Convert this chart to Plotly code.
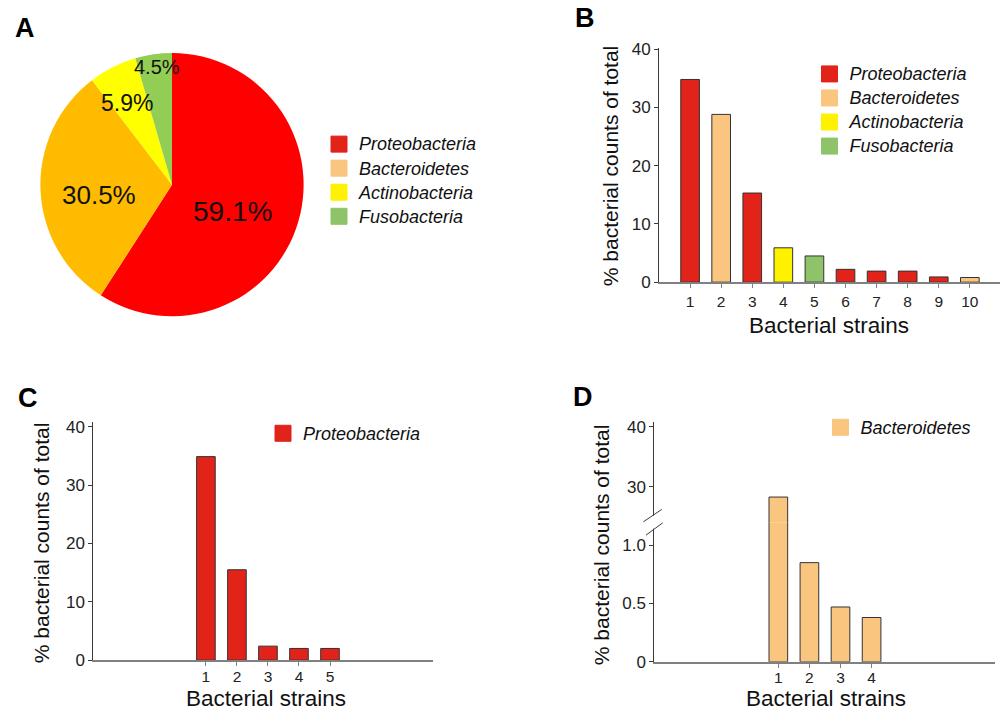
import plotly.graph_objects as go

W, H = 1005, 717
FONT = "Liberation Sans, Arial, sans-serif"
# photographed page: image_y = T + S * page_y (measured from earlier renders)
S, T = 0.975, 7.8

# ---------------- data ----------------
phyla = ["Proteobacteria", "Bacteroidetes", "Actinobacteria", "Fusobacteria"]
pie_values = [59.1, 30.5, 5.9, 4.5]

b_strains = [1, 2, 3, 4, 5, 6, 7, 8, 9, 10]
b_values = [34.8, 28.8, 15.3, 5.9, 4.5, 2.2, 1.9, 1.9, 0.9, 0.8]
b_phylum = ["Proteobacteria", "Bacteroidetes", "Proteobacteria", "Actinobacteria",
            "Fusobacteria", "Proteobacteria", "Proteobacteria", "Proteobacteria",
            "Proteobacteria", "Bacteroidetes"]

c_strains = [1, 2, 3, 4, 5]
c_values = [34.9, 15.5, 2.4, 2.0, 2.0]

d_strains = [1, 2, 3, 4]
d_values = [28.3, 0.85, 0.47, 0.38]

main_yticks = [0, 10, 20, 30, 40]
d_low_ticks = [0, 0.5, 1.0]
d_low_labels = ["0", "0.5", "1.0"]
d_high_ticks = [30, 40]

# ---------------- styles ----------------
pie_colors = ["#FF0000", "#FFBB00", "#FFFF00", "#92CD55"]
bar_colors = {"Proteobacteria": "#E2231A", "Bacteroidetes": "#FAC57F",
              "Actinobacteria": "#FFF200", "Fusobacteria": "#8EC36A"}


def fx(p):
    return p / W


def pg(img_y):
    return (img_y - T) / S


def fyp(page_y):
    return 1 - page_y / H


def fy(img_y):
    return fyp(pg(img_y))


fig = go.Figure()

R = 135
pcy = pg(184.5)
fig.add_trace(go.Pie(
    labels=phyla, values=pie_values, sort=False, direction="clockwise", rotation=0,
    marker=dict(colors=pie_colors, line=dict(width=0)),
    textinfo="none", showlegend=False, hoverinfo="label+percent",
    domain=dict(x=[fx(172 - R), fx(172 + R)], y=[fyp(pcy + R), fyp(pcy - R)]),
))

fig.add_trace(go.Bar(
    x=b_strains, y=b_values, width=0.6,
    marker=dict(color=[bar_colors[p] for p in b_phylum], line=dict(color="#333333", width=1)),
    xaxis="x", yaxis="y", showlegend=False,
))
fig.add_trace(go.Bar(
    x=c_strains, y=c_values, width=0.6,
    marker=dict(color=bar_colors["Proteobacteria"], line=dict(color="#333333", width=1)),
    xaxis="x2", yaxis="y2", showlegend=False,
))
for ya in ["y3", "y4"]:
    fig.add_trace(go.Bar(
        x=d_strains, y=d_values, width=0.6,
        marker=dict(color=bar_colors["Bacteroidetes"], line=dict(color="#333333", width=1)),
        xaxis="x3", yaxis=ya, showlegend=False,
    ))


def legend_entry(name, legend):
    c = bar_colors[name]
    return go.Scatter(
        x=[None], y=[None], mode="markers",
        marker=dict(symbol="square", size=16, color=c, line=dict(color=c, width=1)),
        name="<span style='font-size:18px'><i>%s</i></span>" % name,
        legend=legend, xaxis="x", yaxis="y", showlegend=True, hoverinfo="skip",
    )


for p in phyla:
    fig.add_trace(legend_entry(p, "legend"))
for p in phyla:
    fig.add_trace(legend_entry(p, "legend2"))
fig.add_trace(legend_entry("Proteobacteria", "legend3"))
fig.add_trace(legend_entry("Bacteroidetes", "legend4"))

LEG_FS = 16.2
LEG_ITEM_H = LEG_FS * 1.3 + 3


def leg(sym_x, row1_img_y):
    top = pg(row1_img_y) - (5 + LEG_ITEM_H / 2)
    return dict(x=fx(sym_x - 20), y=fyp(top), xanchor="left", yanchor="top",
                font=dict(family=FONT, size=LEG_FS, color="#111111"),
                bgcolor="rgba(0,0,0,0)", itemclick=False, itemdoubleclick=False)


tickfont = dict(family=FONT, size=17, color="#222222")
xtickfont = dict(family=FONT, size=15.5, color="#222222")
XLINE = "#808080"
YLINE = "#3a3a3a"


def xax(dom, rng, ticks, anchor, standoff=0):
    return dict(domain=dom, range=rng, tickvals=ticks, ticktext=[str(t) for t in ticks],
                showgrid=False, zeroline=False, showline=True, linecolor=XLINE, linewidth=1.6,
                ticks="outside", ticklen=4, tickcolor=XLINE, tickwidth=1,
                ticklabelstandoff=standoff,
                tickfont=xtickfont, anchor=anchor, fixedrange=True)


def yax(dom, rng, ticks, labels, anchor):
    return dict(domain=dom, range=rng, tickvals=ticks, ticktext=labels,
                showgrid=False, zeroline=False, showline=True, linecolor=YLINE, linewidth=1,
                ticks="outside", ticklen=4, tickcolor=YLINE, tickwidth=1,
                tickfont=tickfont, anchor=anchor, fixedrange=True)


main_labels = [str(t) for t in main_yticks]

annotations = []
for txt, (x, y) in zip(["A", "B", "C", "D"], [(25, 27.5), (585, 18), (27.5, 397.5), (582.5, 396.5)]):
    annotations.append(dict(text="<b>%s</b>" % txt, x=fx(x), y=fy(y), xref="paper", yref="paper",
                            xanchor="center", yanchor="middle", showarrow=False,
                            font=dict(family=FONT, size=27, color="#000000")))
pie_label_pos = [(232, 211), (99, 195), (127, 103), (157, 67)]
pie_label_size = [28, 26, 23, 20]
for v, (x, y), s in zip(pie_values, pie_label_pos, pie_label_size):
    annotations.append(dict(text="%.1f%%" % v, x=fx(x), y=fy(y), xref="paper", yref="paper",
                            xanchor="center", yanchor="middle", showarrow=False,
                            font=dict(family=FONT, size=s, color="#111111")))
for (x, y) in [(829, 325), (266, 698.5), (826, 698.5)]:
    annotations.append(dict(text="Bacterial strains", x=fx(x), y=fy(y), xref="paper", yref="paper",
                            xanchor="center", yanchor="middle", showarrow=False,
                            font=dict(family=FONT, size=22.5, color="#111111")))
for (x, y) in [(610, 166), (41, 543), (601, 545)]:
    annotations.append(dict(text="% bacterial counts of total", x=fx(x), y=fy(y), xref="paper",
                            yref="paper", xanchor="center", yanchor="middle", showarrow=False,
                            textangle=-90, font=dict(family=FONT, size=21, color="#111111")))

shapes = [
    dict(type="rect", xref="paper", yref="paper", x0=fx(650), x1=fx(658), y0=fy(528.5), y1=fy(515.5),
         fillcolor="white", line=dict(width=0), layer="above"),
    dict(type="line", xref="paper", yref="paper", x0=fx(643.3), y0=fy(521.7), x1=fx(661.7), y1=fy(509.3),
         line=dict(color=YLINE, width=1), layer="above"),
    dict(type="line", xref="paper", yref="paper", x0=fx(646), y0=fy(535), x1=fx(662.7), y1=fy(522.7),
         line=dict(color=YLINE, width=1), layer="above"),
]

fig.update_layout(
    width=W, height=H, autosize=False,
    margin=dict(l=0, r=0, t=0, b=0),
    paper_bgcolor="white", plot_bgcolor="white",
    font=dict(family=FONT, color="#111111"),
    xaxis=xax([fx(659), fx(1000)], [0, 10.97], b_strains, "y"),
    yaxis=yax([fy(282), fy(47.8)], [0, 40.2], main_yticks, main_labels, "x"),
    xaxis2=xax([fx(93.3), fx(433)], [-2.63, 8.32], c_strains, "y2", standoff=-3),
    yaxis2=yax([fy(660), fy(421.7)], [0, 40.86], main_yticks, main_labels, "x2"),
    xaxis3=xax([fx(654.3), fx(995)], [-2.99, 7.97], d_strains, "y3", standoff=-3),
    yaxis3=yax([fy(661.7), fy(522)], [0, 1.197], d_low_ticks, d_low_labels, "x3"),
    yaxis4=yax([fy(522), fy(421.7)], [24.12, 40.83], d_high_ticks, [str(t) for t in d_high_ticks], "x3"),
    legend=leg(339, 143.5),
    legend2=leg(829.5, 73.3),
    legend3=leg(283, 432.7),
    legend4=leg(840.5, 426.7),
    annotations=annotations,
    shapes=shapes,
    showlegend=True,
)

fig.write_html("out.html", config={"displayModeBar": False},
               post_script="document.body.style.margin='0px';")
